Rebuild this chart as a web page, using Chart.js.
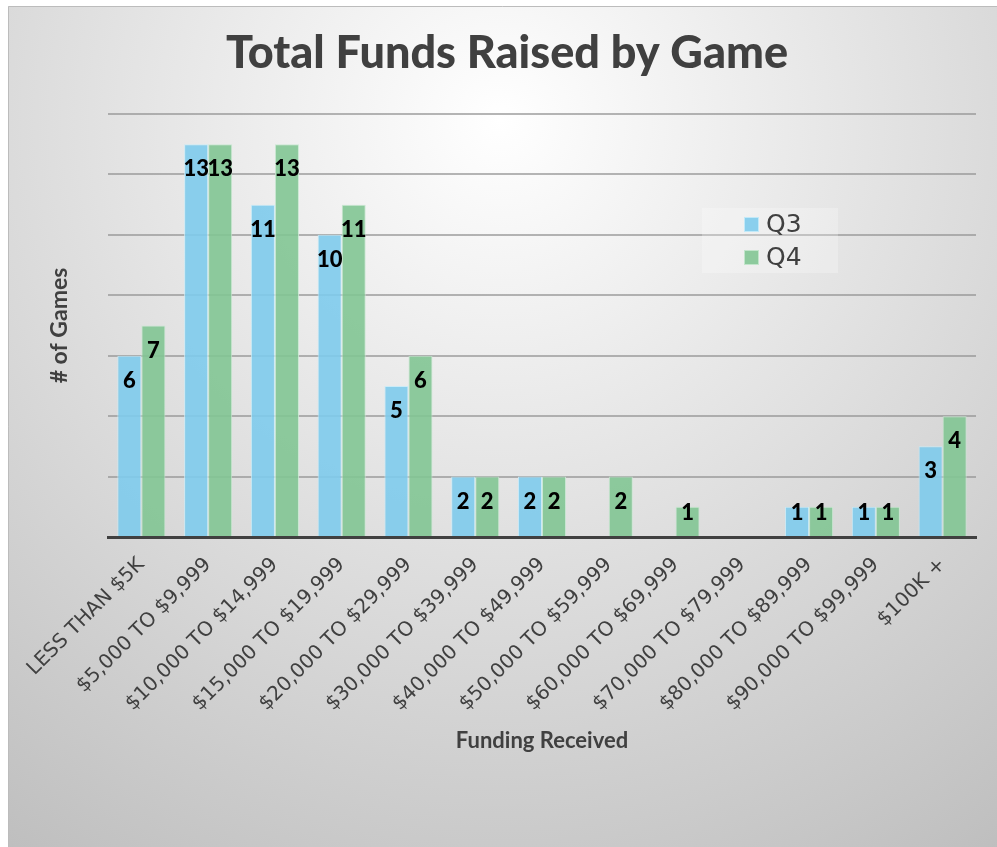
<!DOCTYPE html>
<html>
<head>
<meta charset="utf-8">
<script src="https://cdn.jsdelivr.net/npm/chart.js@4.4.1/dist/chart.umd.min.js"></script>
<style>
  html, body { margin: 0; padding: 0; background: #ffffff; }
  #wrap { width: 997px; height: 847px; position: relative; }
</style>
</head>
<body>
<div id="wrap"><canvas id="chart" width="997" height="847"></canvas></div>
<script>
// Funding brackets and number of games per quarter
const categories = [
  'LESS THAN $5K', '$5,000 TO $9,999', '$10,000 TO $14,999', '$15,000 TO $19,999',
  '$20,000 TO $29,999', '$30,000 TO $39,999', '$40,000 TO $49,999', '$50,000 TO $59,999',
  '$60,000 TO $69,999', '$70,000 TO $79,999', '$80,000 TO $89,999', '$90,000 TO $99,999',
  '$100K +'
];
const q3Games = [6, 13, 11, 10, 5, 2, 2, 0, 0, 0, 1, 1, 3];
const q4Games = [7, 13, 13, 11, 6, 2, 2, 2, 1, 0, 1, 1, 4];
const seriesNames = ['Q3', 'Q4'];
const chartTitle = 'Total Funds Raised by Game';

const TEXT = '#404040';

// Soft radial backdrop with a thin frame, plus the heading
const backdrop = {
  id: 'backdrop',
  beforeDraw(chart) {
    const ctx = chart.ctx;
    ctx.save();
    ctx.fillStyle = '#ffffff';
    ctx.fillRect(0, 0, chart.width, chart.height);
    const g = ctx.createRadialGradient(500, 120, 0, 500, 120, 900);
    g.addColorStop(0, '#ffffff');
    g.addColorStop(1, '#bdbdbd');
    ctx.fillStyle = g;
    ctx.fillRect(8, 6, chart.width - 8, chart.height - 6);
    ctx.strokeStyle = '#bcbcbc';
    ctx.lineWidth = 1;
    ctx.beginPath();
    ctx.moveTo(8.5, chart.height);
    ctx.lineTo(8.5, 6.5);
    ctx.lineTo(chart.width, 6.5);
    ctx.stroke();

    ctx.font = '900 45px Lato';
    ctx.fillStyle = TEXT;
    ctx.textAlign = 'center';
    ctx.textBaseline = 'middle';
    ctx.fillText(chartTitle, 507, 53);
    ctx.restore();
  }
};

// Value labels placed inside the top of each bar
const valueLabels = {
  id: 'valueLabels',
  afterDatasetsDraw(chart) {
    const ctx = chart.ctx;
    ctx.save();
    ctx.font = '900 22px Lato';
    ctx.fillStyle = '#000000';
    ctx.textAlign = 'center';
    ctx.textBaseline = 'middle';
    chart.data.datasets.forEach((ds, di) => {
      chart.getDatasetMeta(di).data.forEach((bar, i) => {
        const v = ds.data[i];
        if (!v) return;
        const h = bar.base - bar.y;
        const off = h < 45 ? 6 : 25;
        ctx.fillText(String(v), bar.x, bar.y + off);
      });
    });
    ctx.restore();
  }
};

// Legend box inside the plot
const insetLegend = {
  id: 'insetLegend',
  afterDraw(chart) {
    const ctx = chart.ctx;
    ctx.save();
    ctx.fillStyle = 'rgba(255,255,255,0.25)';
    ctx.fillRect(702, 208, 136, 65);
    ctx.font = '25px "DejaVu Sans"';
    ctx.textBaseline = 'middle';
    ctx.textAlign = 'left';
    chart.data.datasets.forEach((ds, i) => {
      const y = 224 + i * 33;
      ctx.fillStyle = ds.backgroundColor;
      ctx.fillRect(744, y - 7, 15, 15);
      ctx.strokeStyle = ds.borderColor;
      ctx.lineWidth = 1;
      ctx.strokeRect(744.5, y - 6.5, 14, 14);
      ctx.fillStyle = TEXT;
      ctx.fillText(ds.label, 766, y + 1);
    });
    ctx.restore();
  }
};

new Chart(document.getElementById('chart'), {
  type: 'bar',
  data: {
    labels: categories,
    datasets: [
      {
        label: seriesNames[0],
        data: q3Games,
        backgroundColor: 'rgba(126,203,236,0.9)',
        borderColor: 'rgba(200,235,248,0.9)',
        borderWidth: c => (c.raw > 0 ? 1 : 0)
      },
      {
        label: seriesNames[1],
        data: q4Games,
        backgroundColor: 'rgba(130,197,147,0.9)',
        borderColor: 'rgba(200,232,208,0.9)',
        borderWidth: c => (c.raw > 0 ? 1 : 0)
      }
    ]
  },
  options: {
    responsive: false,
    animation: false,
    devicePixelRatio: 1,
    categoryPercentage: 0.72,
    barPercentage: 1,
    layout: { padding: { left: 0, right: 21, top: 114, bottom: 0 } },
    plugins: {
      legend: { display: false },
      tooltip: { enabled: false },
      title: { display: false }
    },
    scales: {
      x: {
        grid: { display: false },
        border: { display: true, color: '#404040', width: 3 },
        ticks: {
          color: TEXT,
          font: { family: 'DejaVu Sans', size: 20 },
          minRotation: 45,
          maxRotation: 45,
          padding: 8
        },
        title: {
          display: true,
          text: 'Funding Received',
          color: TEXT,
          font: { family: 'Lato', size: 22, weight: 'bold', lineHeight: 1.2 },
          padding: { top: 0, bottom: 93 }
        },
        afterFit(scale) { scale.height = 310; }
      },
      y: {
        min: 0,
        max: 14,
        ticks: { display: false, stepSize: 2 },
        grid: { color: 'rgba(150,150,150,0.7)', lineWidth: 2, drawTicks: false },
        border: { display: false },
        title: {
          display: true,
          text: '# of Games',
          color: TEXT,
          font: { family: 'Lato', size: 23, weight: 'bold', lineHeight: 1.2 },
          padding: { top: 46, bottom: 0 }
        },
        afterFit(scale) { scale.width = 108; }
      }
    }
  },
  plugins: [backdrop, valueLabels, insetLegend]
});
</script>
</body>
</html>
